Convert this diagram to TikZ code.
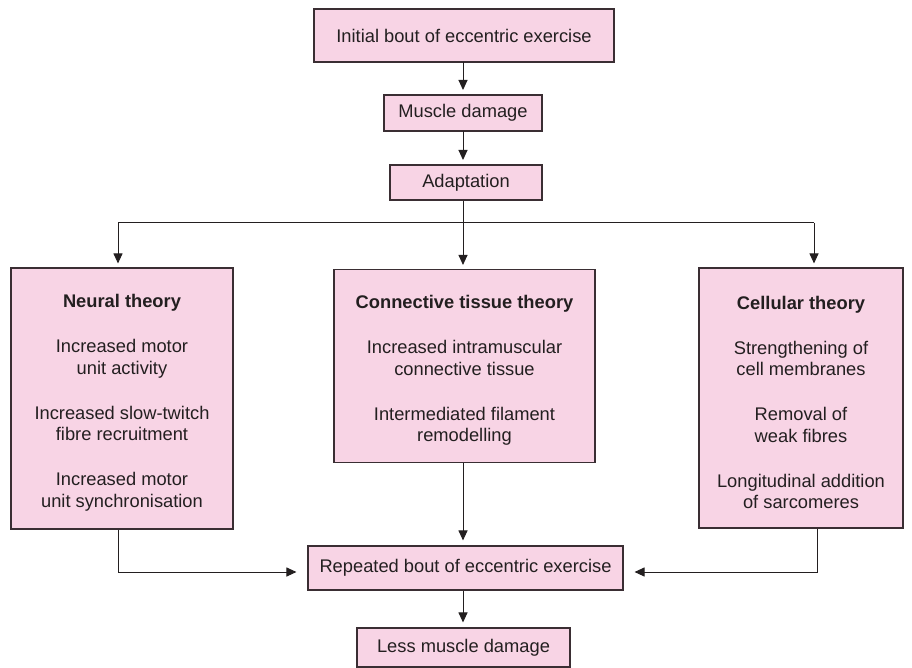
\documentclass[tikz,border=0pt]{standalone}
\usepackage{fontspec}
\setmainfont{Liberation Sans}
\usetikzlibrary{arrows.meta}
\definecolor{boxfill}{HTML}{F8D4E5}
\definecolor{boxline}{HTML}{3A2E33}
\definecolor{ink}{HTML}{231F20}
\newcommand{\topstrut}{\rule{0pt}{22pt}}
\begin{document}
\begin{tikzpicture}[x=1pt,y=-1pt,
  box/.style={draw=boxline,fill=boxfill,line width=1.1pt,inner sep=0pt,
    text=ink,align=center,font=\fontsize{18.3}{21.5}\selectfont},
  conn/.style={draw=ink,line width=1pt},
  arr/.style={conn,-{Triangle[length=10pt,width=9pt]}}]
\useasboundingbox (0,0) rectangle (912,668);
\node[box,minimum width=300pt,minimum height=53pt] (init) at (464,35.5) {Initial bout of eccentric exercise};
\node[box,minimum width=158pt,minimum height=36pt] (dmg) at (463,113) {Muscle damage};
\node[box,minimum width=152pt,minimum height=35pt] (adapt) at (466,182.5) {Adaptation};
\node[box,minimum width=222pt,minimum height=261pt] (neural) at (122,398.5)
  {\topstrut\textbf{Neural theory}\\[23.5pt]Increased motor\\unit activity\\[23.5pt]Increased slow-twitch\\fibre recruitment\\[23.5pt]Increased motor\\unit synchronisation};
\node[box,minimum width=261pt,minimum height=193pt] (conn) at (464.5,366)
  {\topstrut\textbf{Connective tissue theory}\\[23.5pt]Increased intramuscular\\connective tissue\\[23.5pt]Intermediated filament\\remodelling};
\node[box,minimum width=204pt,minimum height=260pt] (cell) at (801,398)
  {\topstrut\textbf{Cellular theory}\\[23.5pt]Strengthening of\\cell membranes\\[23.5pt]Removal of\\weak fibres\\[23.5pt]Longitudinal addition\\of sarcomeres};
\node[box,minimum width=315pt,minimum height=44pt] (rep) at (465.5,568) {Repeated bout of eccentric exercise};
\node[box,minimum width=213pt,minimum height=39pt] (less) at (463.5,647.5) {Less muscle damage};

\coordinate (bl) at (118,223);
\coordinate (bc) at (463,223);
\coordinate (br) at (814,223);
\coordinate (nl) at (118,572);
\coordinate (cr) at (817,572);

\draw[arr,shorten >=5pt] (463,62) -- (463,95);
\draw[arr,shorten >=5pt] (463,131) -- (463,165);
\draw[conn] (adapt.south -| bc) -- (bc);
\draw[conn] (bl) -- (br);
\draw[arr,shorten >=4pt] (bl) -- (bl |- neural.north);
\draw[arr,shorten >=4pt] (bc) -- (bc |- conn.north);
\draw[arr,shorten >=4pt] (br) -- (br |- cell.north);
\draw[arr,shorten >=5pt] (bc |- conn.south) -- (bc |- rep.north);
\draw[arr,shorten >=11pt] (nl |- neural.south) -- (nl) -- (rep.west |- nl);
\draw[arr,shorten >=11pt] (cr |- cell.south) -- (cr) -- (rep.east |- cr);
\draw[arr,shorten >=5pt] (bc |- rep.south) -- (bc |- less.north);
\end{tikzpicture}
\end{document}
